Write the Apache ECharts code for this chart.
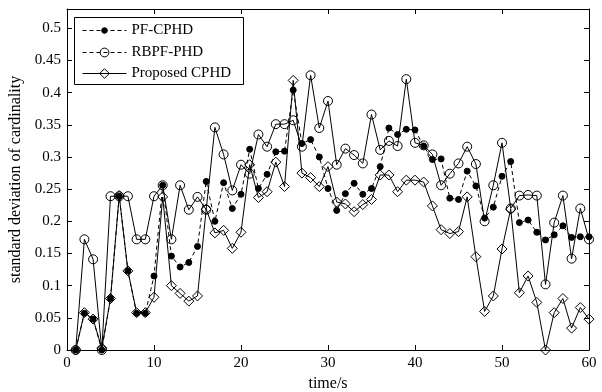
<!DOCTYPE html>
<html>
<head>
<meta charset="utf-8">
<script src="https://cdn.jsdelivr.net/npm/echarts@6/dist/echarts.min.js"></script>
<style>html,body{margin:0;padding:0;background:#fff}#c{width:602px;height:392px}</style>
</head>
<body>
<div id="c"></div>
<script>
const timeSteps = [1,2,3,4,5,6,7,8,9,10,11,12,13,14,15,16,17,18,19,20,21,22,23,24,25,26,27,28,29,30,31,32,33,34,35,36,37,38,39,40,41,42,43,44,45,46,47,48,49,50,51,52,53,54,55,56,57,58,59,60];
const pfCphd = [0,0.057,0.048,0,0.080,0.239,0.123,0.057,0.057,0.115,0.256,0.146,0.129,0.136,0.161,0.262,0.200,0.260,0.220,0.242,0.312,0.251,0.273,0.308,0.309,0.404,0.321,0.327,0.300,0.251,0.217,0.243,0.259,0.242,0.251,0.285,0.345,0.335,0.343,0.342,0.317,0.296,0.297,0.236,0.234,0.278,0.255,0.205,0.222,0.270,0.293,0.198,0.202,0.183,0.171,0.179,0.193,0.175,0.176,0.176];
const rbpfPhd = [0,0.172,0.141,0,0.239,0.239,0.239,0.172,0.172,0.239,0.256,0.172,0.256,0.218,0.238,0.218,0.346,0.304,0.248,0.288,0.274,0.335,0.316,0.351,0.351,0.357,0.316,0.427,0.345,0.387,0.288,0.313,0.303,0.290,0.366,0.311,0.325,0.317,0.421,0.322,0.318,0.304,0.256,0.274,0.290,0.316,0.289,0.200,0.256,0.322,0.220,0.240,0.241,0.240,0.102,0.198,0.240,0.142,0.220,0.172];
const proposedCphd = [0,0.058,0.048,0.003,0.080,0.240,0.123,0.058,0.058,0.082,0.238,0.100,0.088,0.076,0.084,0.219,0.182,0.186,0.158,0.183,0.288,0.237,0.246,0.292,0.254,0.419,0.275,0.268,0.254,0.285,0.230,0.227,0.215,0.226,0.234,0.272,0.272,0.246,0.264,0.264,0.261,0.224,0.187,0.181,0.184,0.238,0.145,0.060,0.084,0.157,0.219,0.089,0.115,0.074,0.000,0.058,0.080,0.034,0.066,0.048];
const seriesNames = ['PF-CPHD','RBPF-PHD','Proposed CPHD'];
const xTicks = [0,10,20,30,40,50,60];
const yTickLabels = ['0','0.05','0.1','0.15','0.2','0.25','0.3','0.35','0.4','0.45','0.5'];

const FONT = '"Liberation Serif","Times New Roman",serif';
const pair = vals => timeSteps.map((t,i)=>[t, vals[i]]);
const chart = echarts.init(document.getElementById('c'), null, {renderer:'canvas'});

const baseAxis = {
  axisLine:{show:true, onZero:false, lineStyle:{color:'#000', width:1}},
  axisTick:{show:true, inside:true, length:5, lineStyle:{color:'#000'}},
  splitLine:{show:false}
};
const yFmt = v => {
  const k = Math.round(v/0.05);
  if (Math.abs(v - k*0.05) > 1e-6 || k >= yTickLabels.length) return '';
  return yTickLabels[k];
};
const legendBase = {left:82, itemWidth:44, itemGap:0, padding:0, z:5,
  itemStyle:{borderWidth:1}, textStyle:{fontFamily:FONT, fontSize:15, color:'#000'}};

chart.setOption({
  animation:false,
  backgroundColor:'#fff',
  grid:{left:67, right:13, top:9, bottom:42, containLabel:false, outerBoundsMode:'none'},
  xAxis:[
    Object.assign({}, baseAxis, {type:'value', min:xTicks[0], max:xTicks[xTicks.length-1], interval:10, position:'bottom',
      name:'time/s', nameLocation:'middle', nameGap:25,
      nameTextStyle:{fontFamily:FONT, fontSize:16, color:'#000'},
      axisLabel:{fontFamily:FONT, fontSize:15, color:'#000', margin:6}}),
    Object.assign({}, baseAxis, {type:'value', min:0, max:60, interval:10, position:'top', axisLabel:{show:false}})
  ],
  yAxis:[
    Object.assign({}, baseAxis, {type:'value', min:0, max:0.53, interval:0.05, position:'left',
      name:'standard deviation of cardinality', nameLocation:'middle', nameGap:43,
      nameTextStyle:{fontFamily:FONT, fontSize:16, color:'#000'},
      axisLabel:{fontFamily:FONT, fontSize:15, color:'#000', margin:6, formatter:yFmt}}),
    Object.assign({}, baseAxis, {type:'value', min:0, max:0.53, interval:0.05, position:'right', axisLabel:{show:false}})
  ],
  graphic:[{type:'rect', left:74, top:17, shape:{width:169, height:67}, z:3,
    style:{fill:'#fff', stroke:'#000', lineWidth:1}}],
  legend:[
    Object.assign({}, legendBase, {data:[seriesNames[0]], top:23, itemHeight:7, lineStyle:{width:1, type:[4,3]}}),
    Object.assign({}, legendBase, {data:[seriesNames[1]], top:45, itemHeight:11, lineStyle:{width:1, type:[4,3]}}),
    Object.assign({}, legendBase, {data:[seriesNames[2]], top:66, itemHeight:12, lineStyle:{width:1}})
  ],
  series:[
    {name:seriesNames[0], type:'line', data:pair(pfCphd), symbol:'circle', symbolSize:6,
      lineStyle:{color:'#000', width:1, type:[4,3]}, itemStyle:{color:'#000', borderColor:'#000'}},
    {name:seriesNames[1], type:'line', data:pair(rbpfPhd), symbol:'circle', symbolSize:9,
      lineStyle:{color:'#000', width:1, type:'solid'}, itemStyle:{color:'rgba(255,255,255,0)', borderColor:'#000', borderWidth:1}},
    {name:seriesNames[2], type:'line', data:pair(proposedCphd), symbol:'diamond', symbolSize:10,
      lineStyle:{color:'#000', width:1}, itemStyle:{color:'rgba(255,255,255,0)', borderColor:'#000', borderWidth:1}}
  ]
});
</script>
</body>
</html>
